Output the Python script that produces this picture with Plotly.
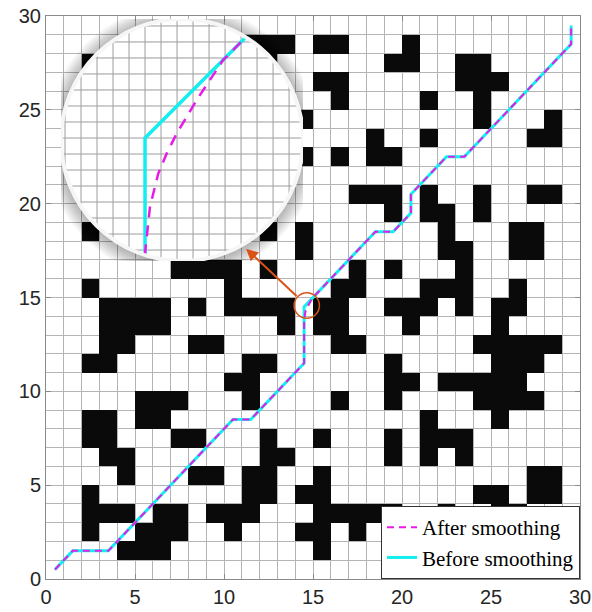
import math
import plotly.graph_objects as go

# ---------------- data ----------------
N_CELLS = 30
# occupied (black) cell column indices for each grid row y = 0..29
row_00 = []
row_01 = [4, 5, 6, 15]
row_02 = [2, 5, 6, 7, 10, 14, 15, 17]
row_03 = [2, 3, 4, 6, 7, 9, 10, 11, 15, 16, 17, 18, 19, 22, 25, 26]
row_04 = [2, 11, 12, 14, 15, 24, 25, 27, 28]
row_05 = [4, 8, 9, 11, 12, 15, 27, 28]
row_06 = [3, 4, 12, 13, 19, 21, 23]
row_07 = [2, 3, 7, 8, 12, 15, 19, 21, 22, 23]
row_08 = [2, 3, 5, 6, 21, 25]
row_09 = [5, 6, 7, 11, 16, 19, 24, 25, 26, 27]
row_10 = [10, 11, 19, 20, 22, 23, 24, 25, 26]
row_11 = [2, 3, 11, 12, 19, 25, 26, 27]
row_12 = [3, 4, 8, 9, 16, 17, 24, 25, 26, 27, 28]
row_13 = [3, 4, 5, 6, 13, 15, 16, 20, 25]
row_14 = [3, 4, 5, 6, 8, 10, 11, 12, 13, 15, 16, 19, 20, 21, 23, 25, 26]
row_15 = [2, 10, 16, 17, 21, 22, 23, 26]
row_16 = [7, 8, 9, 10, 12, 17, 19, 23]
row_17 = [14, 22, 23, 26, 27]
row_18 = [2, 12, 14, 22, 26, 27]
row_19 = [19, 21, 22, 24]
row_20 = [17, 18, 19, 21, 24, 27, 28]
row_21 = []
row_22 = [14, 16, 18, 19]
row_23 = [18, 21, 27, 28]
row_24 = [14, 24, 28]
row_25 = [16, 21, 24]
row_26 = [15, 16, 23, 24, 25]
row_27 = [2, 12, 19, 20, 23, 24]
row_28 = [11, 12, 13, 15, 16, 20]
row_29 = []
obstacle_rows = [row_00, row_01, row_02, row_03, row_04, row_05, row_06, row_07,
                 row_08, row_09, row_10, row_11, row_12, row_13, row_14, row_15,
                 row_16, row_17, row_18, row_19, row_20, row_21, row_22, row_23,
                 row_24, row_25, row_26, row_27, row_28, row_29]

before_x = [0.5, 1.5, 3.5, 10.5, 11.5, 14.5, 14.5, 18.5, 19.5, 20.5, 20.5, 22.5, 23.5, 29.5, 29.5]
before_y = [0.5, 1.5, 1.5, 8.5, 8.5, 11.5, 14.5, 18.5, 18.5, 19.5, 20.5, 22.5, 22.5, 28.5, 29.5]

after_x = [0.5, 1.5, 3.5, 10.5, 11.5, 14.5, 14.5, 14.531, 14.583, 14.636, 14.698, 14.761,
           14.823, 14.906, 14.989, 15.1, 18.5, 19.5, 20.5, 20.5, 22.5, 23.5, 29.5, 29.5]
after_y = [0.5, 1.5, 1.5, 8.5, 8.5, 11.5, 13.78, 14.071, 14.279, 14.404, 14.529, 14.633,
           14.738, 14.863, 14.988, 15.1, 18.5, 18.5, 19.5, 20.5, 22.5, 22.5, 28.5, 29.5]

tick_vals = [0, 5, 10, 15, 20, 25, 30]
legend_after = "After smoothing"
legend_before = "Before smoothing"

# magnifier (zoomed view) settings
zoom_center = (14.731, 14.4875)   # data point at inset centre
zoom_radius = 0.756               # data units visible as inset radius
zoom_grid_step = 0.1
mark_center = (14.65, 14.57)      # small circle on the main chart
mark_radius = (0.71, 0.68)
arrow_tail = (14.16, 15.0)
arrow_head = (11.24, 17.6)

# ---------------- styling ----------------
CYAN = "#14EEEE"
MAGENTA = "#E61CE6"
ORANGE = "#D95319"
GRID = "#b4b4b4"
SPINE = "#8a8a8a"

W, H = 592, 612
ML, MR, MT, MB = 46, 12, 16, 33
PW, PH = W - ML - MR, H - MT - MB

# inset box in pixels (circle centre and radius)
icx, icy, ir = 182, 140, 121
dom_x = [(icx - ir - ML) / PW, (icx + ir - ML) / PW]
dom_y = [(H - MB - (icy + ir)) / PH, (H - MB - (icy - ir)) / PH]

# occupancy matrix
z = []
for r in range(N_CELLS):
    z.append([1 if c in obstacle_rows[r] else None for c in range(N_CELLS)])
centers = [i + 0.5 for i in range(N_CELLS)]

fig = go.Figure()
fig.add_trace(go.Heatmap(z=z, x=centers, y=centers, zmin=0, zmax=1,
                         colorscale=[[0, "#0a0a0a"], [1, "#0a0a0a"]],
                         showscale=False, hoverinfo="skip"))
fig.add_trace(go.Scatter(x=before_x, y=before_y, mode="lines", name=legend_before,
                         line=dict(color=CYAN, width=3)))
fig.add_trace(go.Scatter(x=after_x, y=after_y, mode="lines", name=legend_after,
                         line=dict(color=MAGENTA, width=2, dash="7px,5px")))

# ---------- inset (magnified view clipped to a circle) ----------
cx, cy = zoom_center
R = zoom_radius


def clip_polyline(xs, ys):
    ox, oy = [], []
    for i in range(len(xs) - 1):
        x0, y0, x1, y1 = xs[i], ys[i], xs[i + 1], ys[i + 1]
        dx, dy = x1 - x0, y1 - y0
        a = dx * dx + dy * dy
        b = 2 * (dx * (x0 - cx) + dy * (y0 - cy))
        c = (x0 - cx) ** 2 + (y0 - cy) ** 2 - R * R
        disc = b * b - 4 * a * c
        if a == 0 or disc <= 0:
            continue
        s = math.sqrt(disc)
        t0 = max(0.0, (-b - s) / (2 * a))
        t1 = min(1.0, (-b + s) / (2 * a))
        if t0 >= t1:
            continue
        p0 = (x0 + t0 * dx, y0 + t0 * dy)
        p1 = (x0 + t1 * dx, y0 + t1 * dy)
        if ox and ox[-1] is not None and abs(ox[-1] - p0[0]) < 1e-9 and abs(oy[-1] - p0[1]) < 1e-9:
            ox.append(p1[0]); oy.append(p1[1])
        else:
            if ox:
                ox.append(None); oy.append(None)
            ox += [p0[0], p1[0]]; oy += [p0[1], p1[1]]
    return ox, oy


# grid lines of inset
gx, gy = [], []
k0 = math.ceil((cx - R) / zoom_grid_step)
k1 = math.floor((cx + R) / zoom_grid_step)
for k in range(k0, k1 + 1):
    g = k * zoom_grid_step
    h = R * R - (g - cx) ** 2
    if h <= 0:
        continue
    h = math.sqrt(h)
    gx += [g, g, None]; gy += [cy - h, cy + h, None]
k0 = math.ceil((cy - R) / zoom_grid_step)
k1 = math.floor((cy + R) / zoom_grid_step)
for k in range(k0, k1 + 1):
    g = k * zoom_grid_step
    h = R * R - (g - cy) ** 2
    if h <= 0:
        continue
    h = math.sqrt(h)
    gx += [cx - h, cx + h, None]; gy += [g, g, None]

fig.add_trace(go.Scatter(x=gx, y=gy, mode="lines", xaxis="x2", yaxis="y2",
                         line=dict(color="#9c9c9c", width=1), showlegend=False,
                         hoverinfo="skip"))
bx, by = clip_polyline(before_x, before_y)
fig.add_trace(go.Scatter(x=bx, y=by, mode="lines", xaxis="x2", yaxis="y2",
                         line=dict(color=CYAN, width=3.5), showlegend=False,
                         hoverinfo="skip"))
ax_, ay_ = clip_polyline(after_x, after_y)
fig.add_trace(go.Scatter(x=ax_, y=ay_, mode="lines", xaxis="x2", yaxis="y2",
                         line=dict(color=MAGENTA, width=2.5, dash="11px,8px"),
                         showlegend=False, hoverinfo="skip"))

shapes = []
# soft shadow around the magnifier
for i in range(9, 0, -1):
    e = R * (i * 1.8) / ir
    shapes.append(dict(type="circle", xref="x2", yref="y2", layer="below",
                       x0=cx - R - e, x1=cx + R + e, y0=cy - R - e - 0.01, y1=cy + R + e - 0.01,
                       fillcolor="rgba(0,0,0,0.035)", line=dict(width=0)))
shapes.append(dict(type="circle", xref="x2", yref="y2", layer="below",
                   x0=cx - R, x1=cx + R, y0=cy - R, y1=cy + R,
                   fillcolor="white", line=dict(width=0)))
shapes.append(dict(type="circle", xref="x2", yref="y2", layer="above",
                   x0=cx - R, x1=cx + R, y0=cy - R, y1=cy + R,
                   fillcolor="rgba(0,0,0,0)", line=dict(color="#f6f6f6", width=4)))
shapes.append(dict(type="circle", xref="x", yref="y", layer="above",
                   x0=mark_center[0] - mark_radius[0], x1=mark_center[0] + mark_radius[0],
                   y0=mark_center[1] - mark_radius[1], y1=mark_center[1] + mark_radius[1],
                   fillcolor="rgba(0,0,0,0)", line=dict(color=ORANGE, width=1.5)))

axis_common = dict(range=[0, 30], tickvals=tick_vals, ticks="inside", ticklen=5,
                   tickcolor=SPINE, showline=True, linecolor=SPINE, linewidth=1,
                   mirror="ticks", showgrid=True, gridcolor=GRID, gridwidth=1,
                   minor=dict(dtick=1, showgrid=True, gridcolor=GRID, gridwidth=1, ticks=""),
                   zeroline=False, fixedrange=True, automargin=False,
                   tickfont=dict(family="Liberation Sans, Arial", size=20, color="#262626"))

fig.update_layout(
    width=W, height=H,
    margin=dict(l=ML, r=MR, t=MT, b=MB, autoexpand=False),
    paper_bgcolor="white", plot_bgcolor="rgba(0,0,0,0)",
    xaxis=dict(**axis_common, domain=[0, 1]),
    yaxis=dict(**axis_common, domain=[0, 1]),
    xaxis2=dict(domain=dom_x, range=[cx - R, cx + R], visible=False, anchor="y2",
                fixedrange=True, automargin=False),
    yaxis2=dict(domain=dom_y, range=[cy - R, cy + R], visible=False, anchor="x2",
                fixedrange=True, automargin=False),
    shapes=shapes,
    annotations=[dict(x=arrow_head[0], y=arrow_head[1], ax=arrow_tail[0], ay=arrow_tail[1],
                      xref="x", yref="y", axref="x", ayref="y", text="", showarrow=True,
                      arrowhead=2, arrowsize=1.2, arrowwidth=2, arrowcolor=ORANGE)],
    legend=dict(x=1, y=0, xanchor="right", yanchor="bottom", bgcolor="white",
                bordercolor="#333333", borderwidth=1, traceorder="reversed",
                font=dict(family="Liberation Serif, Times New Roman", size=21, color="black"),
                tracegroupgap=0),
    showlegend=True,
)

fig.write_html("out.html")
